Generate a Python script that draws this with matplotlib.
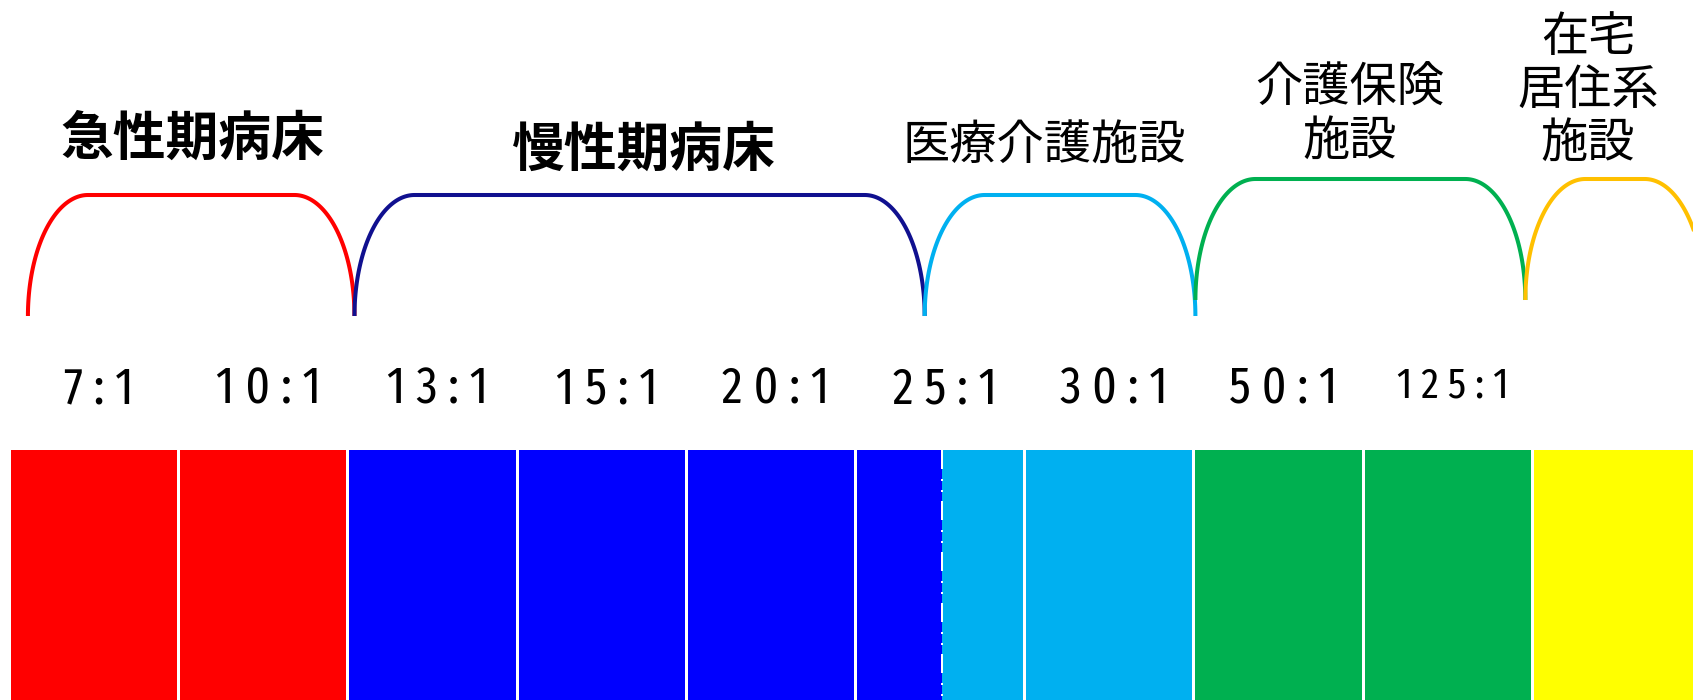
import numpy as np
import matplotlib.pyplot as plt

plt.rcParams['font.family'] = ['Noto Sans CJK JP', 'DejaVu Sans']

# bottom colour band, in cell units (one cell per staffing ratio)
seg_start = [0, 1, 2, 3, 4, 5, 5.5, 6, 7, 8, 9]
seg_end = [1, 2, 3, 4, 5, 5.5, 6, 7, 8, 9, 10]
seg_color = ['#FF0000', '#FF0000', '#0000FF', '#0000FF', '#0000FF', '#0000FF',
             '#00B0F0', '#00B0F0', '#00B050', '#00B050', '#FFFF00']

ratio_labels = ['7:1', '10:1', '13:1', '15:1', '20:1', '25:1', '30:1', '50:1', '125:1']

# brackets over the band
group_labels = ['急性期病床', '慢性期病床', '医療介護施設', '介護保険\n施設', '在宅\n居住系\n施設']
group_start = [0.10, 2.03, 5.40, 7.00, 8.95]
group_end = [2.03, 5.40, 7.00, 8.95, 10.01]
group_color = ['#FF0000', '#10108F', '#00B0F0', '#00B050', '#FFC000']
group_top = [195, 195, 195, 179, 179]
group_foot = [316, 316, 316, 300, 300]

# layout (pixels)
W, H = 1693, 700
x0_px, pitch_px, gap_px = 11, 169.2, 3
gap = gap_px / pitch_px
band_top = 450
rx = 60 / pitch_px

fig = plt.figure(figsize=(W / 100, H / 100), dpi=100)
ax = fig.add_axes([0, 0, 1, 1])
ax.set_xlim(-x0_px / pitch_px, (W - x0_px) / pitch_px)
ax.set_ylim(H, 0)
ax.axis('off')

# colour band
for s, e, c in zip(seg_start, seg_end, seg_color):
    w = e - s - (gap if float(e).is_integer() else 0)
    ax.bar(s, H - band_top, width=w, bottom=band_top, align='edge', color=c, linewidth=0)
ax.plot([5.5, 5.5], [band_top, H], color='white', lw=1.44,
        dashes=(9.5, 5, 1, 4.5, 1, 4.5), dash_capstyle='butt')

# brackets: two quarter ellipses joined by a flat top
t = np.linspace(0, np.pi / 2, 60)
for s, e, top, foot, c in zip(group_start, group_end, group_top, group_foot, group_color):
    ry = foot - top
    lx = s + rx * (1 - np.cos(t))
    ly = foot - ry * np.sin(t)
    rxs = e - rx * (1 - np.cos(t[::-1]))
    rys = foot - ry * np.sin(t[::-1])
    ax.plot(np.concatenate([lx, rxs]), np.concatenate([ly, rys]),
            color=c, lw=2.9, solid_capstyle='butt')

# group labels
label_x = [1.07, 3.74, 6.105, 7.914, 9.32]
label_y = [139, 150, 146, 115, 91]
for i, (txt, x, y) in enumerate(zip(group_labels, label_x, label_y)):
    bold = i < 2
    ax.text(x, y, txt, ha='center', va='center', fontsize=38 if bold else 34,
            fontweight='bold' if bold else 'normal', linespacing=1.12)

# ratio labels (narrow, letter-spaced)
for i, r in enumerate(ratio_labels):
    small = len(r) > 4
    ax.text(i + 0.52, 397 if small else 403, ' '.join(r), ha='center', va='baseline',
            fontsize=31 if small else 37, fontstretch='condensed',
            family=['Fira Sans Extra Condensed', 'DejaVu Sans'])

fig.savefig('out.png', dpi=100)
